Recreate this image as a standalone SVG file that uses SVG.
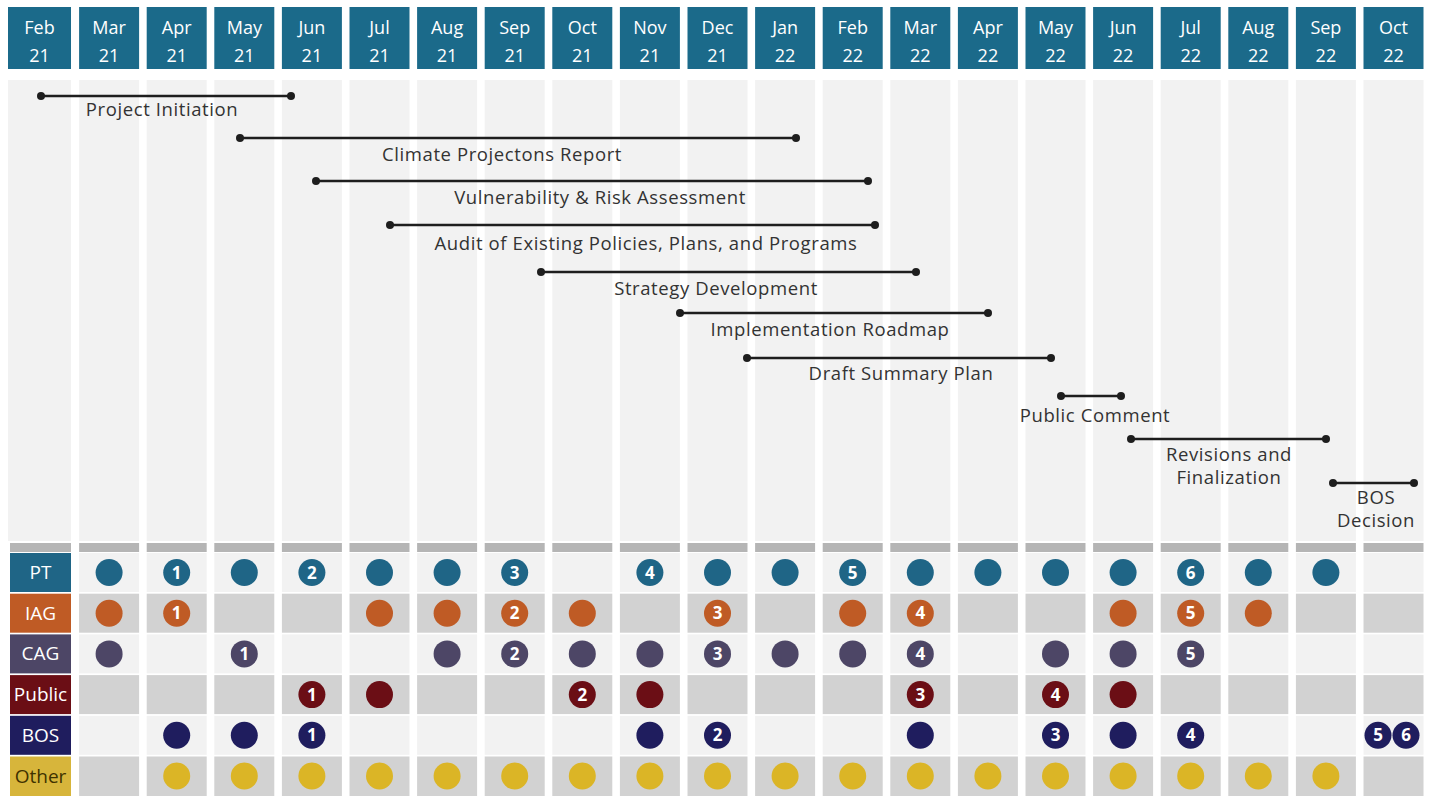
<svg xmlns="http://www.w3.org/2000/svg" width="1429" height="796" viewBox="0 0 1429 796">
<style>
.hdr{fill:#1b6a8a}
.ht{fill:#ffffff;font-family:"Open Sans",sans-serif;font-size:18px;text-anchor:middle}
.col{fill:#f2f2f2}
.gb{fill:#b5b5b5}
.rl{fill:#f2f2f2}
.rd{fill:#d2d2d2}
.bar{stroke:#1e1e1e;stroke-width:2.5}
.end{fill:#1e1e1e}
.tl{fill:#333333;font-family:"Open Sans",sans-serif;font-size:18.5px;letter-spacing:0.6px;text-anchor:middle}
.lt{font-family:"Open Sans",sans-serif;font-size:19px;text-anchor:middle;fill:#ffffff}
.num{fill:#ffffff;font-family:"Open Sans",sans-serif;font-weight:bold;font-size:17px;text-anchor:middle}
.pt{fill:#1f6586}.iag{fill:#bf5b25}.cag{fill:#4d4666}.pub{fill:#6b0e15}.bos{fill:#1f1d5e}.oth{fill:#dbb526}
</style>
<rect width="1429" height="796" fill="#ffffff"/>
<g id="header">
<rect class="hdr" x="8" y="7" width="63" height="62"/><text class="ht" x="39.5" y="34">Feb</text><text class="ht" x="39.5" y="62">21</text>
<rect class="hdr" x="79.1" y="7" width="60" height="62"/><text class="ht" x="109.1" y="34">Mar</text><text class="ht" x="109.1" y="62">21</text>
<rect class="hdr" x="146.7" y="7" width="60" height="62"/><text class="ht" x="176.7" y="34">Apr</text><text class="ht" x="176.7" y="62">21</text>
<rect class="hdr" x="214.3" y="7" width="60" height="62"/><text class="ht" x="244.3" y="34">May</text><text class="ht" x="244.3" y="62">21</text>
<rect class="hdr" x="281.9" y="7" width="60" height="62"/><text class="ht" x="311.9" y="34">Jun</text><text class="ht" x="311.9" y="62">21</text>
<rect class="hdr" x="349.5" y="7" width="60" height="62"/><text class="ht" x="379.5" y="34">Jul</text><text class="ht" x="379.5" y="62">21</text>
<rect class="hdr" x="417.1" y="7" width="60" height="62"/><text class="ht" x="447.1" y="34">Aug</text><text class="ht" x="447.1" y="62">21</text>
<rect class="hdr" x="484.7" y="7" width="60" height="62"/><text class="ht" x="514.7" y="34">Sep</text><text class="ht" x="514.7" y="62">21</text>
<rect class="hdr" x="552.3" y="7" width="60" height="62"/><text class="ht" x="582.3" y="34">Oct</text><text class="ht" x="582.3" y="62">21</text>
<rect class="hdr" x="619.9" y="7" width="60" height="62"/><text class="ht" x="649.9" y="34">Nov</text><text class="ht" x="649.9" y="62">21</text>
<rect class="hdr" x="687.5" y="7" width="60" height="62"/><text class="ht" x="717.5" y="34">Dec</text><text class="ht" x="717.5" y="62">21</text>
<rect class="hdr" x="755.1" y="7" width="60" height="62"/><text class="ht" x="785.1" y="34">Jan</text><text class="ht" x="785.1" y="62">22</text>
<rect class="hdr" x="822.7" y="7" width="60" height="62"/><text class="ht" x="852.7" y="34">Feb</text><text class="ht" x="852.7" y="62">22</text>
<rect class="hdr" x="890.3" y="7" width="60" height="62"/><text class="ht" x="920.3" y="34">Mar</text><text class="ht" x="920.3" y="62">22</text>
<rect class="hdr" x="957.9" y="7" width="60" height="62"/><text class="ht" x="987.9" y="34">Apr</text><text class="ht" x="987.9" y="62">22</text>
<rect class="hdr" x="1025.5" y="7" width="60" height="62"/><text class="ht" x="1055.5" y="34">May</text><text class="ht" x="1055.5" y="62">22</text>
<rect class="hdr" x="1093.1" y="7" width="60" height="62"/><text class="ht" x="1123.1" y="34">Jun</text><text class="ht" x="1123.1" y="62">22</text>
<rect class="hdr" x="1160.7" y="7" width="60" height="62"/><text class="ht" x="1190.7" y="34">Jul</text><text class="ht" x="1190.7" y="62">22</text>
<rect class="hdr" x="1228.3" y="7" width="60" height="62"/><text class="ht" x="1258.3" y="34">Aug</text><text class="ht" x="1258.3" y="62">22</text>
<rect class="hdr" x="1295.9" y="7" width="60" height="62"/><text class="ht" x="1325.9" y="34">Sep</text><text class="ht" x="1325.9" y="62">22</text>
<rect class="hdr" x="1363.5" y="7" width="60" height="62"/><text class="ht" x="1393.5" y="34">Oct</text><text class="ht" x="1393.5" y="62">22</text>
</g>
<g id="columns">
<rect class="col" x="8" y="80" width="63" height="461"/>
<rect class="col" x="79.1" y="80" width="60" height="461"/>
<rect class="col" x="146.7" y="80" width="60" height="461"/>
<rect class="col" x="214.3" y="80" width="60" height="461"/>
<rect class="col" x="281.9" y="80" width="60" height="461"/>
<rect class="col" x="349.5" y="80" width="60" height="461"/>
<rect class="col" x="417.1" y="80" width="60" height="461"/>
<rect class="col" x="484.7" y="80" width="60" height="461"/>
<rect class="col" x="552.3" y="80" width="60" height="461"/>
<rect class="col" x="619.9" y="80" width="60" height="461"/>
<rect class="col" x="687.5" y="80" width="60" height="461"/>
<rect class="col" x="755.1" y="80" width="60" height="461"/>
<rect class="col" x="822.7" y="80" width="60" height="461"/>
<rect class="col" x="890.3" y="80" width="60" height="461"/>
<rect class="col" x="957.9" y="80" width="60" height="461"/>
<rect class="col" x="1025.5" y="80" width="60" height="461"/>
<rect class="col" x="1093.1" y="80" width="60" height="461"/>
<rect class="col" x="1160.7" y="80" width="60" height="461"/>
<rect class="col" x="1228.3" y="80" width="60" height="461"/>
<rect class="col" x="1295.9" y="80" width="60" height="461"/>
<rect class="col" x="1363.5" y="80" width="60" height="461"/>
<rect class="gb" x="10" y="543" width="61" height="9"/>
<rect class="gb" x="79.1" y="543" width="60" height="9"/>
<rect class="gb" x="146.7" y="543" width="60" height="9"/>
<rect class="gb" x="214.3" y="543" width="60" height="9"/>
<rect class="gb" x="281.9" y="543" width="60" height="9"/>
<rect class="gb" x="349.5" y="543" width="60" height="9"/>
<rect class="gb" x="417.1" y="543" width="60" height="9"/>
<rect class="gb" x="484.7" y="543" width="60" height="9"/>
<rect class="gb" x="552.3" y="543" width="60" height="9"/>
<rect class="gb" x="619.9" y="543" width="60" height="9"/>
<rect class="gb" x="687.5" y="543" width="60" height="9"/>
<rect class="gb" x="755.1" y="543" width="60" height="9"/>
<rect class="gb" x="822.7" y="543" width="60" height="9"/>
<rect class="gb" x="890.3" y="543" width="60" height="9"/>
<rect class="gb" x="957.9" y="543" width="60" height="9"/>
<rect class="gb" x="1025.5" y="543" width="60" height="9"/>
<rect class="gb" x="1093.1" y="543" width="60" height="9"/>
<rect class="gb" x="1160.7" y="543" width="60" height="9"/>
<rect class="gb" x="1228.3" y="543" width="60" height="9"/>
<rect class="gb" x="1295.9" y="543" width="60" height="9"/>
<rect class="gb" x="1363.5" y="543" width="60" height="9"/>
</g>
<g id="rows">
<g id="row-stripes">
<rect class="rl" x="79.1" y="553" width="1344.4" height="39"/>
<rect class="rd" x="79.1" y="593.7" width="1344.4" height="39"/>
<rect class="rl" x="79.1" y="634.4" width="1344.4" height="39"/>
<rect class="rd" x="79.1" y="675.1" width="1344.4" height="39"/>
<rect class="rl" x="79.1" y="715.8" width="1344.4" height="39"/>
<rect class="rd" x="79.1" y="756.5" width="1344.4" height="39.5"/>
<g fill="#ffffff">
<rect x="139.1" y="553" width="7.6" height="243"/><rect x="206.7" y="553" width="7.6" height="243"/><rect x="274.3" y="553" width="7.6" height="243"/><rect x="341.9" y="553" width="7.6" height="243"/><rect x="409.5" y="553" width="7.6" height="243"/><rect x="477.1" y="553" width="7.6" height="243"/><rect x="544.7" y="553" width="7.6" height="243"/><rect x="612.3" y="553" width="7.6" height="243"/><rect x="679.9" y="553" width="7.6" height="243"/><rect x="747.5" y="553" width="7.6" height="243"/><rect x="815.1" y="553" width="7.6" height="243"/><rect x="882.7" y="553" width="7.6" height="243"/><rect x="950.3" y="553" width="7.6" height="243"/><rect x="1017.9" y="553" width="7.6" height="243"/><rect x="1085.5" y="553" width="7.6" height="243"/><rect x="1153.1" y="553" width="7.6" height="243"/><rect x="1220.7" y="553" width="7.6" height="243"/><rect x="1288.3" y="553" width="7.6" height="243"/><rect x="1355.9" y="553" width="7.6" height="243"/>
</g>
</g>
<g id="label-PT"><rect x="10" y="553" width="61" height="39" fill="#1f6586"/><text class="lt" x="40.5" y="579">PT</text></g>
<g id="label-IAG"><rect x="10" y="593.7" width="61" height="39" fill="#bf5b25"/><text class="lt" x="40.5" y="619.7">IAG</text></g>
<g id="label-CAG"><rect x="10" y="634.4" width="61" height="39" fill="#4d4666"/><text class="lt" x="40.5" y="660.4">CAG</text></g>
<g id="label-Public"><rect x="10" y="675.1" width="61" height="39" fill="#6b0e15"/><text class="lt" x="40.5" y="701.1">Public</text></g>
<g id="label-BOS"><rect x="10" y="715.8" width="61" height="39" fill="#1f1d5e"/><text class="lt" x="40.5" y="741.8">BOS</text></g>
<g id="label-Other"><rect x="10" y="756.5" width="61" height="39.5" fill="#d7b53b"/><text class="lt" x="40.5" y="782.5" style="fill:#3f3200">Other</text></g>
</g>
<g id="connectors">
<g id="bar-project-initiation"><line class="bar" x1="41" y1="96" x2="291" y2="96"/><circle class="end" cx="41" cy="96" r="4"/><circle class="end" cx="291" cy="96" r="4"/><text class="tl" x="162" y="116">Project Initiation</text></g>
<g id="bar-climate"><line class="bar" x1="240" y1="138" x2="796" y2="138"/><circle class="end" cx="240" cy="138" r="4"/><circle class="end" cx="796" cy="138" r="4"/><text class="tl" x="502" y="161">Climate Projectons Report</text></g>
<g id="bar-vulnerability"><line class="bar" x1="316" y1="181" x2="868" y2="181"/><circle class="end" cx="316" cy="181" r="4"/><circle class="end" cx="868" cy="181" r="4"/><text class="tl" x="600" y="204">Vulnerability &amp; Risk Assessment</text></g>
<g id="bar-audit"><line class="bar" x1="390" y1="225" x2="875" y2="225"/><circle class="end" cx="390" cy="225" r="4"/><circle class="end" cx="875" cy="225" r="4"/><text class="tl" x="646" y="250">Audit of Existing Policies, Plans, and Programs</text></g>
<g id="bar-strategy"><line class="bar" x1="541" y1="272" x2="916" y2="272"/><circle class="end" cx="541" cy="272" r="4"/><circle class="end" cx="916" cy="272" r="4"/><text class="tl" x="716" y="295">Strategy Development</text></g>
<g id="bar-implementation"><line class="bar" x1="680" y1="313" x2="988" y2="313"/><circle class="end" cx="680" cy="313" r="4"/><circle class="end" cx="988" cy="313" r="4"/><text class="tl" x="830" y="336">Implementation Roadmap</text></g>
<g id="bar-draft"><line class="bar" x1="747" y1="358" x2="1051" y2="358"/><circle class="end" cx="747" cy="358" r="4"/><circle class="end" cx="1051" cy="358" r="4"/><text class="tl" x="901" y="380">Draft Summary Plan</text></g>
<g id="bar-public-comment"><line class="bar" x1="1061" y1="396" x2="1121" y2="396"/><circle class="end" cx="1061" cy="396" r="4"/><circle class="end" cx="1121" cy="396" r="4"/><text class="tl" x="1095" y="422">Public Comment</text></g>
<g id="bar-revisions"><line class="bar" x1="1131" y1="439" x2="1326" y2="439"/><circle class="end" cx="1131" cy="439" r="4"/><circle class="end" cx="1326" cy="439" r="4"/><text class="tl" x="1229" y="461">Revisions and</text><text class="tl" x="1229" y="484">Finalization</text></g>
<g id="bar-bos-decision"><line class="bar" x1="1333" y1="483" x2="1414" y2="483"/><circle class="end" cx="1333" cy="483" r="4"/><circle class="end" cx="1414" cy="483" r="4"/><text class="tl" x="1376" y="504">BOS</text><text class="tl" x="1376" y="527">Decision</text></g>
</g>
<g id="dots-PT" class="pt">
<circle cx="109.1" cy="572.5" r="13.5"/>
<circle cx="176.7" cy="572.5" r="13.5"/>
<circle cx="244.3" cy="572.5" r="13.5"/>
<circle cx="311.9" cy="572.5" r="13.5"/>
<circle cx="379.5" cy="572.5" r="13.5"/>
<circle cx="447.1" cy="572.5" r="13.5"/>
<circle cx="514.7" cy="572.5" r="13.5"/>
<circle cx="649.9" cy="572.5" r="13.5"/>
<circle cx="717.5" cy="572.5" r="13.5"/>
<circle cx="785.1" cy="572.5" r="13.5"/>
<circle cx="852.7" cy="572.5" r="13.5"/>
<circle cx="920.3" cy="572.5" r="13.5"/>
<circle cx="987.9" cy="572.5" r="13.5"/>
<circle cx="1055.5" cy="572.5" r="13.5"/>
<circle cx="1123.1" cy="572.5" r="13.5"/>
<circle cx="1190.7" cy="572.5" r="13.5"/>
<circle cx="1258.3" cy="572.5" r="13.5"/>
<circle cx="1325.9" cy="572.5" r="13.5"/>
</g>
<g id="dots-IAG" class="iag">
<circle cx="109.1" cy="613.2" r="13.5"/>
<circle cx="176.7" cy="613.2" r="13.5"/>
<circle cx="379.5" cy="613.2" r="13.5"/>
<circle cx="447.1" cy="613.2" r="13.5"/>
<circle cx="514.7" cy="613.2" r="13.5"/>
<circle cx="582.3" cy="613.2" r="13.5"/>
<circle cx="717.5" cy="613.2" r="13.5"/>
<circle cx="852.7" cy="613.2" r="13.5"/>
<circle cx="920.3" cy="613.2" r="13.5"/>
<circle cx="1123.1" cy="613.2" r="13.5"/>
<circle cx="1190.7" cy="613.2" r="13.5"/>
<circle cx="1258.3" cy="613.2" r="13.5"/>
</g>
<g id="dots-CAG" class="cag">
<circle cx="109.1" cy="653.9" r="13.5"/>
<circle cx="244.3" cy="653.9" r="13.5"/>
<circle cx="447.1" cy="653.9" r="13.5"/>
<circle cx="514.7" cy="653.9" r="13.5"/>
<circle cx="582.3" cy="653.9" r="13.5"/>
<circle cx="649.9" cy="653.9" r="13.5"/>
<circle cx="717.5" cy="653.9" r="13.5"/>
<circle cx="785.1" cy="653.9" r="13.5"/>
<circle cx="852.7" cy="653.9" r="13.5"/>
<circle cx="920.3" cy="653.9" r="13.5"/>
<circle cx="1055.5" cy="653.9" r="13.5"/>
<circle cx="1123.1" cy="653.9" r="13.5"/>
<circle cx="1190.7" cy="653.9" r="13.5"/>
</g>
<g id="dots-Public" class="pub">
<circle cx="311.9" cy="694.6" r="13.5"/>
<circle cx="379.5" cy="694.6" r="13.5"/>
<circle cx="582.3" cy="694.6" r="13.5"/>
<circle cx="649.9" cy="694.6" r="13.5"/>
<circle cx="920.3" cy="694.6" r="13.5"/>
<circle cx="1055.5" cy="694.6" r="13.5"/>
<circle cx="1123.1" cy="694.6" r="13.5"/>
</g>
<g id="dots-BOS" class="bos">
<circle cx="176.7" cy="735.3" r="13.5"/>
<circle cx="244.3" cy="735.3" r="13.5"/>
<circle cx="311.9" cy="735.3" r="13.5"/>
<circle cx="649.9" cy="735.3" r="13.5"/>
<circle cx="717.5" cy="735.3" r="13.5"/>
<circle cx="920.3" cy="735.3" r="13.5"/>
<circle cx="1055.5" cy="735.3" r="13.5"/>
<circle cx="1123.1" cy="735.3" r="13.5"/>
<circle cx="1190.7" cy="735.3" r="13.5"/>
<circle cx="1378" cy="735.3" r="13.5"/>
<circle cx="1406" cy="735.3" r="13.5"/>
</g>
<g id="dots-Other" class="oth">
<circle cx="176.7" cy="776" r="13.5"/>
<circle cx="244.3" cy="776" r="13.5"/>
<circle cx="311.9" cy="776" r="13.5"/>
<circle cx="379.5" cy="776" r="13.5"/>
<circle cx="447.1" cy="776" r="13.5"/>
<circle cx="514.7" cy="776" r="13.5"/>
<circle cx="582.3" cy="776" r="13.5"/>
<circle cx="649.9" cy="776" r="13.5"/>
<circle cx="717.5" cy="776" r="13.5"/>
<circle cx="785.1" cy="776" r="13.5"/>
<circle cx="852.7" cy="776" r="13.5"/>
<circle cx="920.3" cy="776" r="13.5"/>
<circle cx="987.9" cy="776" r="13.5"/>
<circle cx="1055.5" cy="776" r="13.5"/>
<circle cx="1123.1" cy="776" r="13.5"/>
<circle cx="1190.7" cy="776" r="13.5"/>
<circle cx="1258.3" cy="776" r="13.5"/>
<circle cx="1325.9" cy="776" r="13.5"/>
</g>
<g id="numbers">
<text class="num" x="176.7" y="578.6">1</text>
<text class="num" x="311.9" y="578.6">2</text>
<text class="num" x="514.7" y="578.6">3</text>
<text class="num" x="649.9" y="578.6">4</text>
<text class="num" x="852.7" y="578.6">5</text>
<text class="num" x="1190.7" y="578.6">6</text>
<text class="num" x="176.7" y="619.3">1</text>
<text class="num" x="514.7" y="619.3">2</text>
<text class="num" x="717.5" y="619.3">3</text>
<text class="num" x="920.3" y="619.3">4</text>
<text class="num" x="1190.7" y="619.3">5</text>
<text class="num" x="244.3" y="660">1</text>
<text class="num" x="514.7" y="660">2</text>
<text class="num" x="717.5" y="660">3</text>
<text class="num" x="920.3" y="660">4</text>
<text class="num" x="1190.7" y="660">5</text>
<text class="num" x="311.9" y="700.7">1</text>
<text class="num" x="582.3" y="700.7">2</text>
<text class="num" x="920.3" y="700.7">3</text>
<text class="num" x="1055.5" y="700.7">4</text>
<text class="num" x="311.9" y="741.4">1</text>
<text class="num" x="717.5" y="741.4">2</text>
<text class="num" x="1055.5" y="741.4">3</text>
<text class="num" x="1190.7" y="741.4">4</text>
<text class="num" x="1378" y="741.4">5</text>
<text class="num" x="1406" y="741.4">6</text>
</g>
</svg>
